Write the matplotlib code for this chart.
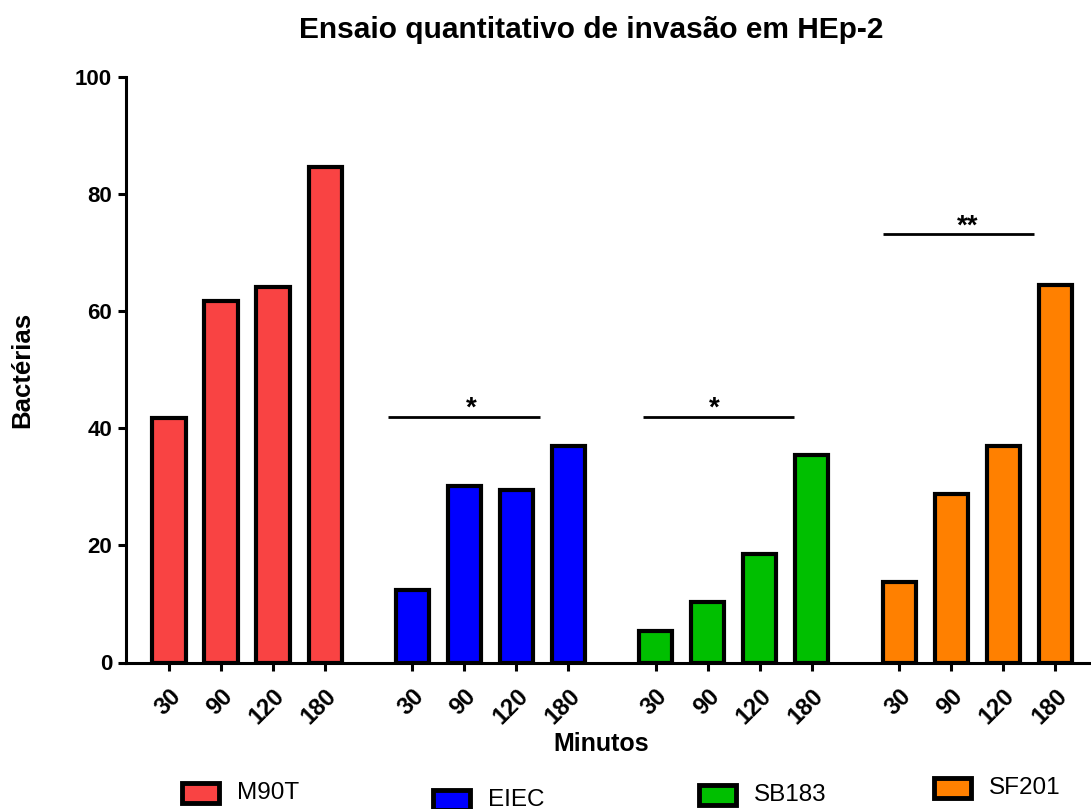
import numpy as np
import matplotlib
matplotlib.use('Agg')
import matplotlib.pyplot as plt
from matplotlib.patches import Rectangle

plt.rcParams['font.family'] = ['Liberation Sans', 'DejaVu Sans']

# dados
cepas = ['M90T', 'EIEC', 'SB183', 'SF201']
minutos = ['30', '90', '120', '180']
m90t = [41.8, 61.8, 64.1, 84.6]
eiec = [12.4, 30.2, 29.5, 36.9]
sb183 = [5.4, 10.4, 18.5, 35.5]
sf201 = [13.8, 28.8, 36.9, 64.5]
valores = [m90t, eiec, sb183, sf201]
cores = ['#F94343', '#0000FF', '#00BF00', '#FF8000']

# barras de significancia: (grupo, inicio, fim, altura, x do texto, texto)
signif = [(1, -0.46, 2.46, 42.0, 1.13, '*'),
          (2, -0.25, 2.65, 42.0, 1.13, '*'),
          (3, -0.31, 2.6, 73.1, 1.32, '**')]

W, H = 1091, 809
fig = plt.figure(figsize=(W / 100, H / 100), dpi=100)
ax = fig.add_axes([126 / W, 1 - 662.5 / H, 1 - 126 / W, (662.5 - 77) / H])

passo_grupo = 4.68
xs_all = []
for g, vals in enumerate(valores):
    xs = g * passo_grupo + np.arange(len(vals))
    xs_all.extend(xs)
    ax.bar(xs, vals, width=0.635, color=cores[g], edgecolor='black',
           linewidth=3.0, zorder=3)

for g, x0, x1, h, xt, txt in signif:
    base = g * passo_grupo
    ax.plot([base + x0, base + x1], [h, h], color='black', lw=2.0,
            solid_capstyle='butt')
    ax.text(base + xt, h - 0.8, txt, ha='center', va='bottom',
            fontsize=20, fontweight='bold')

ax.set_xlim(-0.827, 17.73)
ax.set_ylim(0, 100)
ax.set_yticks(np.arange(0, 101, 20))
ax.set_xticks(xs_all)
ax.set_xticklabels(minutos * len(cepas), rotation=45, ha='right',
                   rotation_mode='anchor', fontsize=17, fontweight='bold')
for lab in ax.get_yticklabels():
    lab.set_fontweight('bold')
    lab.set_fontsize(16)
ax.tick_params(axis='both', direction='out', length=6, width=2.2, pad=4)
ax.tick_params(axis='x', pad=10)
for s in ['top', 'right']:
    ax.spines[s].set_visible(False)
for s in ['left', 'bottom']:
    ax.spines[s].set_linewidth(2.2)

fig.text(601 / W, 1 - 744 / H, 'Minutos', ha='center', va='center',
         fontsize=18, fontweight='bold')
fig.text(22 / W, 1 - 370 / H, 'Bactérias', ha='center', va='center',
         rotation=90, fontsize=18.5, fontweight='bold')
fig.text(591 / W, 1 - 30 / H, 'Ensaio quantitativo de invasão em HEp-2',
         ha='center', va='center', fontsize=21.5, fontweight='bold')

# legenda em posicoes escalonadas, como no original
leg_pos = [(182, 783), (433, 790), (699, 785), (934, 778)]
for (px, py), nome, cor in zip(leg_pos, cepas, cores):
    fig.add_artist(Rectangle((px / W, 1 - (py + 20) / H), 37 / W, 20 / H,
                             transform=fig.transFigure, facecolor=cor,
                             edgecolor='black', linewidth=3.5))
    fig.text((px + 55) / W, 1 - (py + 10) / H, nome, ha='left', va='center',
             fontsize=17.5)

fig.savefig('out.png', dpi=100)
